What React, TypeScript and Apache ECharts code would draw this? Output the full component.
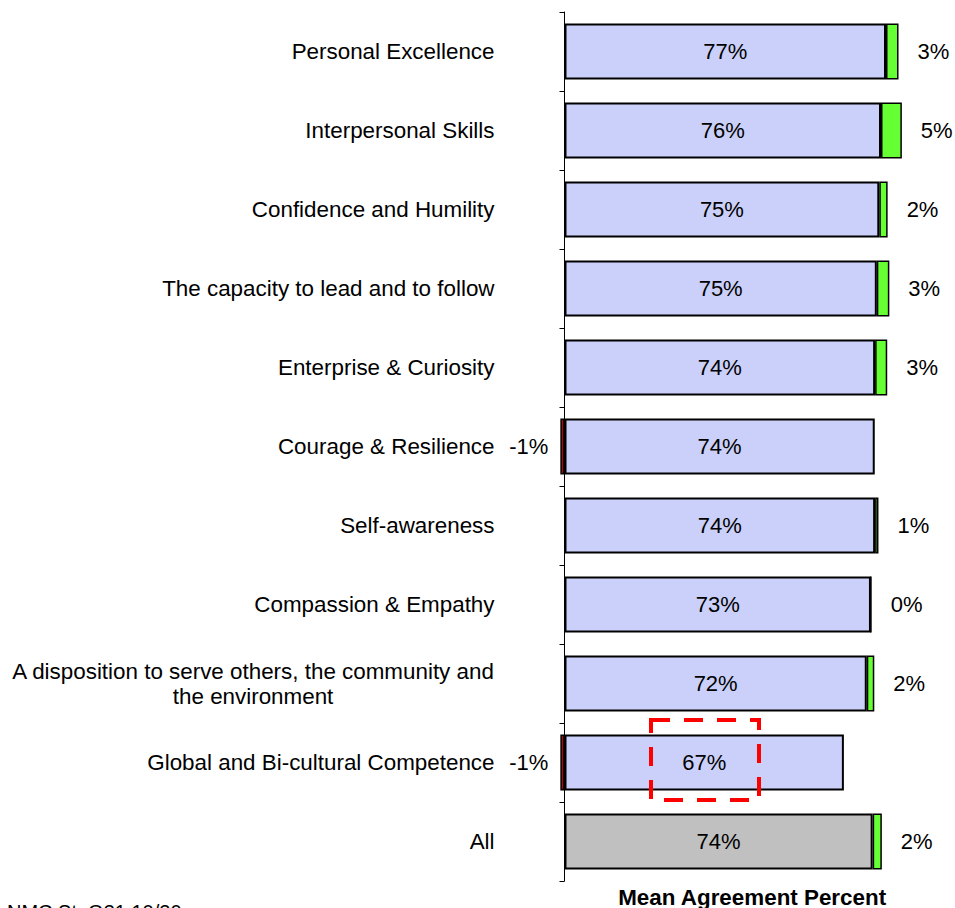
import React, { useEffect, useRef } from "react";
import * as echarts from "echarts";

const categories = [
  "Personal Excellence",
  "Interpersonal Skills",
  "Confidence and Humility",
  "The capacity to lead and to follow",
  "Enterprise & Curiosity",
  "Courage & Resilience",
  "Self-awareness",
  "Compassion & Empathy",
  "A disposition to serve others, the community and\nthe environment",
  "Global and Bi-cultural Competence",
  "All",
];
const meanPercent = [77.1, 75.9, 75.49, 74.9, 74.49, 74.4, 74.49, 73.49, 72.49, 67.0, 73.9];
const changePercent = [3.0, 5.0, 2.0, 3.0, 2.9, -1.0, 0.8, 0, 1.8, -1.0, 2.2];
const axisTitle = "Mean Agreement Percent";
const footnote = "NMC St. Q31 10/20";

const FONT = "'Liberation Sans', Arial, sans-serif";

export default function App() {
  const ref = useRef<HTMLDivElement>(null);
  useEffect(() => {
    document.body.style.margin = "0";
    const chart = echarts.init(ref.current!, undefined, { renderer: "svg" });
    const gridLeft = 564.5;
    const xMax = 90;
    const pxPerPct = 4.17;
    const gridRight = 955 - (gridLeft + xMax * pxPerPct);
    const lastIdx = categories.length - 1;
    chart.setOption({
      animation: false,
      grid: {
        left: gridLeft,
        right: gridRight,
        top: 12,
        bottom: 27,
        containLabel: false,
        outerBoundsMode: "none",
      },
      xAxis: {
        type: "value",
        min: 0,
        max: xMax,
        axisLine: { show: false },
        axisTick: { show: false },
        axisLabel: { show: false },
        splitLine: { show: false },
        name: axisTitle,
        nameLocation: "middle",
        nameGap: 5,
        nameTextStyle: { fontFamily: FONT, fontSize: 22.4, fontWeight: "bold", color: "#000", verticalAlign: "top" },
      },
      yAxis: {
        type: "category",
        inverse: true,
        data: categories,
        axisLine: { show: true, onZero: false, lineStyle: { color: "#000", width: 1 } },
        axisTick: { show: true, length: 5, lineStyle: { color: "#000" } },
        axisLabel: {
          margin: 70,
          fontFamily: FONT,
          fontSize: 22.4,
          color: "#000",
          formatter: (v: string) => v.split("\n").map((l) => `{c|${l}}`).join("\n"),
          rich: { c: { align: "center", fontFamily: FONT, fontSize: 22.4, lineHeight: 25, color: "#000" } },
        },
      },
      series: [
        {
          type: "bar",
          stack: "total",
          barWidth: 56,
          clip: false,
          data: meanPercent.map((v, i) => ({
            value: v,
            itemStyle: { color: i === lastIdx ? "#C0C0C0" : "#CAD0F9" },
          })),
          itemStyle: { borderColor: "#000", borderWidth: 2 },
          label: {
            show: true,
            position: "inside",
            fontFamily: FONT,
            fontSize: 22,
            color: "#000",
            formatter: (p: any) => `${Math.round(p.value)}%`,
          },
        },
        {
          type: "bar",
          stack: "total",
          barWidth: 56,
          clip: false,
          data: changePercent.map((v) => ({
            value: v,
            itemStyle: { color: v < 0 ? "#C00000" : "#66FF33" },
            label: v < 0 ? { position: "left", distance: 12 } : { position: "right", distance: 19 },
          })),
          itemStyle: { borderColor: "#000", borderWidth: 1.5 },
          label: {
            show: true,
            fontFamily: FONT,
            fontSize: 22,
            color: "#000",
            formatter: (p: any) => `${Math.round(p.value)}%`,
          },
        },
      ],
      graphic: [
        {
          type: "rect",
          shape: { x: 651, y: 720, width: 108, height: 80 },
          style: { fill: "none", stroke: "#FF0000", lineWidth: 4, lineDash: [19, 14] },
          z: 100,
        },
        {
          type: "text",
          x: 7,
          y: 902,
          style: { text: footnote, fontFamily: FONT, fontSize: 20, fill: "#000" },
        },
      ],
    });
    return () => chart.dispose();
  }, []);
  return <div ref={ref} style={{ position: "absolute", left: 0, top: 0, width: 955, height: 908 }} />;
}
